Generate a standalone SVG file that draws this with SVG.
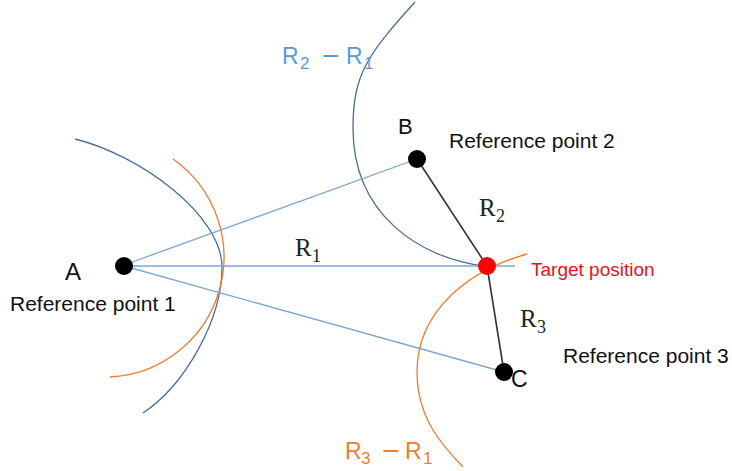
<svg xmlns="http://www.w3.org/2000/svg" width="732" height="471" viewBox="0 0 732 471">
<style>
.curveB{fill:none;stroke:#4a6f96;stroke-width:1.3}
.curveO{fill:none;stroke:#ed7d31;stroke-width:1.3}
.ray{stroke:#7ea6d2;stroke-width:1.3;fill:none}
.dist{stroke:#333;stroke-width:1.6;fill:none}
.dot{fill:#000}
.lbl{font-family:"Liberation Sans",Arial,sans-serif;font-size:21px;fill:#111}
.math{font-family:"Liberation Serif","Times New Roman",serif;font-size:25px;fill:#222}
.sub{font-size:18px}
.hb{font-family:"Liberation Sans",Arial,sans-serif;font-size:23px;fill:#5b9bd5}
.ho{font-family:"Liberation Sans",Arial,sans-serif;font-size:23px;fill:#ed7d31}
.hsub{font-size:17px}
.minus{font-size:30px}
</style>
<rect width="732" height="471" fill="#fff"/>
<g id="curves">
<path class="curveB" d="M75,139 C140,155 222,215 222,267 C222,320 185,385 143,413"/>
<path class="curveO" d="M173,159 A120,120 0 0 1 110,377"/>
<path class="curveB" d="M415,2 C367,55 353,75 353,128 C353,215 420,258 484,266"/>
<path class="curveO" d="M527,254 C470,270 417,310 417,372 C417,420 445,448 463,467"/>
</g>
<g id="connectors">
<line class="ray" x1="124" y1="265" x2="417" y2="159"/>
<line class="ray" x1="124" y1="266" x2="515" y2="266"/>
<line class="ray" x1="124" y1="266" x2="504" y2="372"/>
<line class="dist" x1="417" y1="159" x2="487" y2="266"/>
<line class="dist" x1="487" y1="266" x2="504" y2="372"/>
</g>
<g id="node-A">
<circle class="dot" cx="124" cy="266" r="9"/>
<text class="lbl" x="65" y="280" style="font-size:24px">A</text>
<text class="lbl" x="10" y="311">Reference point 1</text>
</g>
<g id="node-B">
<circle class="dot" cx="417" cy="159" r="9"/>
<text class="lbl" x="398" y="134" style="font-size:22px">B</text>
<text class="lbl" x="449" y="148">Reference point 2</text>
</g>
<g id="node-C">
<circle class="dot" cx="504" cy="372" r="9"/>
<text class="lbl" x="511" y="387" style="font-size:23px">C</text>
<text class="lbl" x="563" y="363">Reference point 3</text>
</g>
<g id="node-target">
<circle cx="487" cy="266" r="9" fill="#ff0000"/>
<text class="lbl" x="531" y="276" style="font-size:19px;fill:#e8121a">Target position</text>
</g>
<g id="labels">
<text class="math" x="295" y="256">R<tspan class="sub" x="312" y="262">1</tspan></text>
<text class="math" x="479" y="216">R<tspan class="sub" x="496" y="222">2</tspan></text>
<text class="math" x="520" y="327">R<tspan class="sub" x="537" y="333">3</tspan></text>
<text class="hb" x="282" y="64">R<tspan class="hsub" x="300" y="69">2</tspan><tspan class="minus" x="322" y="66">−</tspan><tspan x="346" y="64">R</tspan><tspan class="hsub" x="364" y="69">1</tspan></text>
<text class="ho" x="345" y="459">R<tspan class="hsub" x="361" y="464">3</tspan><tspan class="minus" x="382" y="461">−</tspan><tspan x="405" y="459">R</tspan><tspan class="hsub" x="423" y="464">1</tspan></text>
</g>
</svg>
